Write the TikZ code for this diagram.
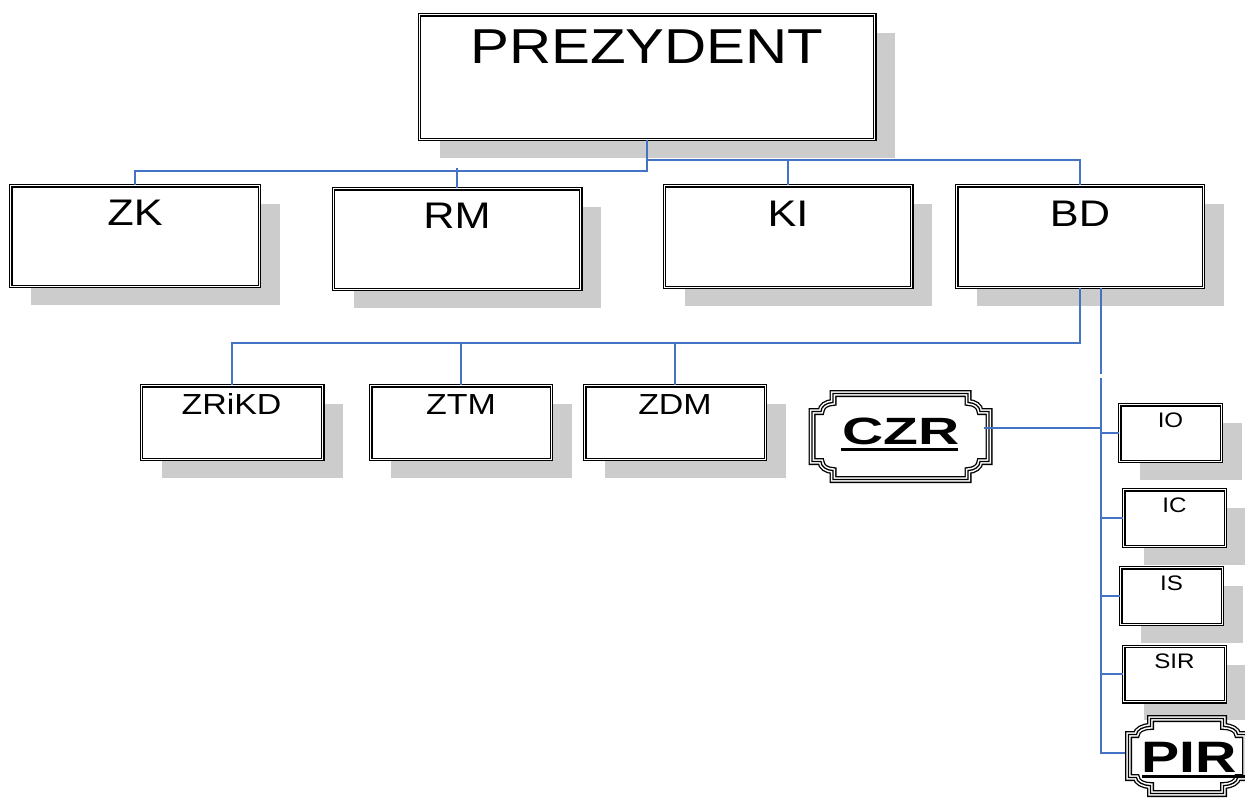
\documentclass[tikz,border=0pt]{standalone}
\usepackage{fontspec}
\setmainfont{Liberation Sans}
\usepackage{graphicx}
\usetikzlibrary{shadows,calc}
\definecolor{connblue}{RGB}{68,114,196}
\definecolor{shadowgray}{RGB}{204,204,204}
\newcommand\hs[2]{\scalebox{#1}[1]{#2}}
% plaque outline: #1 half width (wide part), #2 half width (tall part),
% #3 half height (tall part), #4 half height (wide part), #5 corner step
\newcommand\plaquepath[5]{%
 \pgfmathsetmacro\pA{#1}%
 \pgfmathsetmacro\pB{#1-#5}%
 \pgfmathsetmacro\pC{#2}%
 \pgfmathsetmacro\pD{#3}%
 \pgfmathsetmacro\pE{#3-#5}%
 \pgfmathsetmacro\pF{#4}%
 \pgfmathsetmacro\pGx{\pC+(\pB-\pC)*0.5523}%
 \pgfmathsetmacro\pGy{\pF+(\pE-\pF)*0.5523}%
 \def\pqpath{(-\pA,\pF) -- (-\pA,-\pF) -- (-\pB,-\pF) .. controls (-\pB,-\pGy) and (-\pGx,-\pE) .. (-\pC,-\pE) -- (-\pC,-\pD) -- (\pC,-\pD) -- (\pC,-\pE) .. controls (\pGx,-\pE) and (\pB,-\pGy) .. (\pB,-\pF) -- (\pA,-\pF) -- (\pA,\pF) -- (\pB,\pF) .. controls (\pB,\pGy) and (\pGx,\pE) .. (\pC,\pE) -- (\pC,\pD) -- (-\pC,\pD) -- (-\pC,\pE) .. controls (-\pGx,\pE) and (-\pB,\pGy) .. (-\pB,\pF) -- cycle}%
}
\tikzset{
  obox/.style={draw=black, line width=1.1pt, double=white, double distance=1.3pt,
    fill=white, inner sep=0pt,
    drop shadow={shadow xshift=20.5pt, shadow yshift=-18.5pt, fill=shadowgray, opacity=1}},
  conn/.style={draw=connblue, line width=1.7pt},
  lab/.style={anchor=base, inner sep=0pt, text=black},
  fA/.style={font=\fontsize{49}{55}\selectfont},
  fB/.style={font=\fontsize{37}{42}\selectfont},
  fC/.style={font=\fontsize{29}{33}\selectfont},
  fD/.style={font=\fontsize{21}{24}\selectfont},
  tripleA/.style={draw=black, line width=7pt},
  tripleB/.style={draw=white, line width=4.4pt},
  tripleC/.style={draw=black, line width=1.3pt},
  plaquenode/.style={inner sep=0pt, draw=none},
}
\begin{document}
\begin{tikzpicture}[x=1pt,y=-1pt]
\useasboundingbox (0,0) rectangle (1245,798);
\clip (0,0) rectangle (1245,798);
\fill[white] (0,0) rectangle (1245,798);

% main boxes
\node[obox, minimum width=455.5pt, minimum height=124.5pt] (prez) at (647,77) {};
\node[obox, minimum width=248.5pt, minimum height=100.5pt] (zk) at (135,236) {};
\node[obox, minimum width=247.5pt, minimum height=100.5pt] (rm) at (457,239) {};
\node[obox, minimum width=247.5pt, minimum height=101.5pt] (ki) at (788,236.5) {};
\node[obox, minimum width=246.5pt, minimum height=101.5pt] (bd) at (1080,236.5) {};
\node[obox, minimum width=181.5pt, minimum height=73.5pt] (zrikd) at (232,422.5) {};
\node[obox, minimum width=180.5pt, minimum height=73.5pt] (ztm) at (461,422.5) {};
\node[obox, minimum width=180.5pt, minimum height=73.5pt] (zdm) at (675,422.5) {};
\node[obox, minimum width=101.5pt, minimum height=56.5pt] (io) at (1170.5,433) {};
\node[obox, minimum width=101.5pt, minimum height=56.5pt] (ic) at (1174.5,518) {};
\node[obox, minimum width=101.5pt, minimum height=56.5pt] (is) at (1171.5,596) {};
\node[obox, minimum width=101.5pt, minimum height=55.5pt] (sir) at (1174.5,674) {};

% labels
\node[lab, fA] (prez-t) at (647,63) {\hs{1.19}{PREZYDENT}};
\node[lab, fB] (zk-t) at (135,225) {\hs{1.17}{ZK}};
\node[lab, fB] (rm-t) at (457,228) {\hs{1.17}{RM}};
\node[lab, fB] (ki-t) at (788,226) {\hs{1.17}{KI}};
\node[lab, fB] (bd-t) at (1080,226) {\hs{1.17}{BD}};
\node[lab, fC] (zrikd-t) at (231.5,414) {\hs{1.17}{ZRiKD}};
\node[lab, fC] (ztm-t) at (461,414) {\hs{1.17}{ZTM}};
\node[lab, fC] (zdm-t) at (675,414) {\hs{1.17}{ZDM}};
\node[lab, fD] (io-t) at (1170.5,427) {\hs{1.15}{IO}};
\node[lab, fD] (ic-t) at (1174.5,512) {\hs{1.15}{IC}};
\node[lab, fD] (is-t) at (1171.5,590) {\hs{1.15}{IS}};
\node[lab, fD] (sir-t) at (1174.5,668) {\hs{1.15}{SIR}};

% CZR plaque
\node[plaquenode, minimum width=184pt, minimum height=93pt] (czr) at (900.5,436.5) {};
\begin{scope}[shift={(czr.center)}]
  \plaquepath{88.5}{67.5}{43}{25}{9}
  \fill[white] \pqpath;
  \draw[tripleA] \pqpath; \draw[tripleB] \pqpath; \draw[tripleC] \pqpath;
\end{scope}
\node[lab, font=\fontsize{38}{42}\selectfont\bfseries] (czr-t) at (901,444) {\hs{1.5}{CZR}};
\draw[line width=3pt] ($(czr-t.base west)+(-1,5.5)$) -- ($(czr-t.base east)+(-2,5.5)$);

% PIR plaque
\node[plaquenode, minimum width=124pt, minimum height=82pt] (pir) at (1187,756) {};
\begin{scope}[shift={(pir.center)}]
  \plaquepath{58.5}{36.5}{37.5}{21.5}{8}
  \fill[white] \pqpath;
  \draw[tripleA] \pqpath; \draw[tripleB] \pqpath; \draw[tripleC] \pqpath;
\end{scope}
\node[lab, font=\fontsize{44}{48}\selectfont\bfseries] (pir-t) at (1189,772) {\hs{1.3}{PIR}};
\draw[line width=3.5pt] ($(pir-t.base west)+(1,4.5)$) -- ($(pir-t.base east)+(10,4.5)$);

% connectors
\draw[conn] (prez.south) -- ++(0,31) -| (zk.north);
\draw[conn] (rm.north) -- ++(0,-20);
\draw[conn] (prez.south) -- ++(0,20) -| (bd.north);
\draw[conn] (ki.north) -- ++(0,-26.5);
\coordinate (bus) at ($(bd.south)+(0,55)$);
\draw[conn] (bd.south) -- (bus) -| (zrikd.north);
\draw[conn] (ztm.north) -- (ztm.north |- bus);
\draw[conn] (zdm.north) -- (zdm.north |- bus);
\coordinate (sp) at ($(bd.south)+(21,0)$);
\coordinate (spA) at ($(sp)+(0,86)$);
\coordinate (spB) at ($(sp)+(0,90)$);
\coordinate (pirin) at ($(pir.west)+(0,-3)$);
\draw[conn] (sp) -- (spA);
\draw[conn] (spB) |- (pirin);
\coordinate (czrout) at ($(czr.east)+(-9,-8.5)$);
\draw[conn] (czrout) -- (czrout -| sp);
\draw[conn] (io.west) -- (io.west -| sp);
\draw[conn] (ic.west) -- (ic.west -| sp);
\draw[conn] (is.west) -- (is.west -| sp);
\draw[conn] (sir.west) -- (sir.west -| sp);
\end{tikzpicture}
\end{document}
